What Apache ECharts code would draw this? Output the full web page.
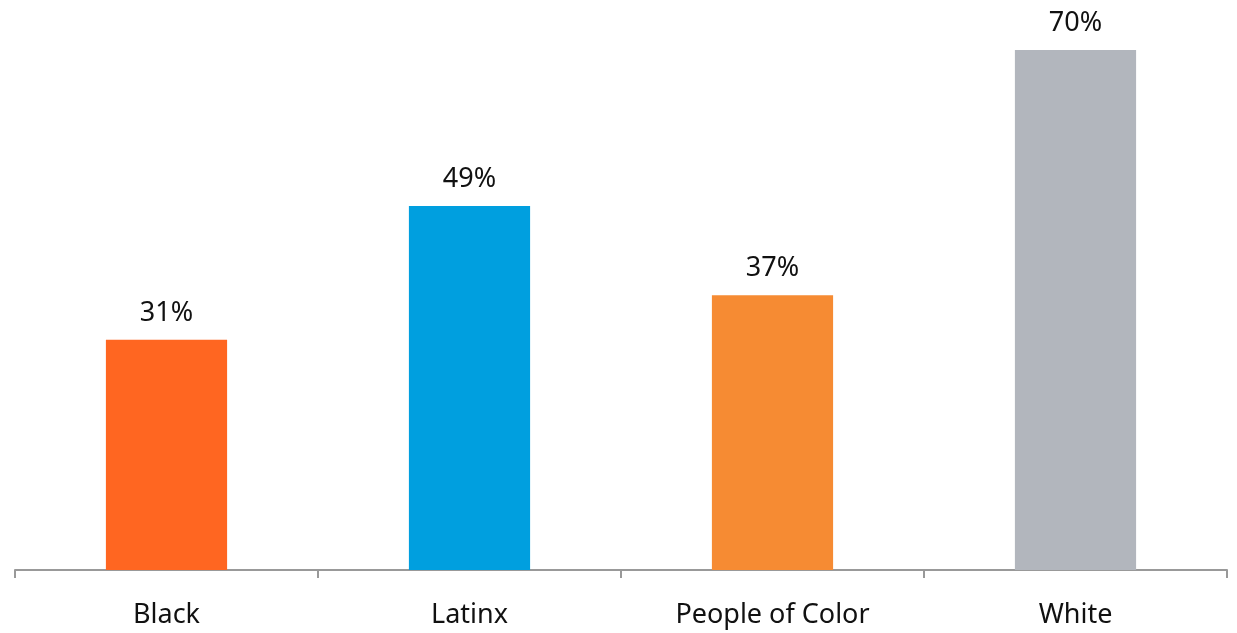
<!DOCTYPE html>
<html>
<head>
<meta charset="utf-8">
<script src="https://cdn.jsdelivr.net/npm/echarts@6/dist/echarts.min.js"></script>
<style>html,body{margin:0;padding:0;background:#fff;}#c{width:1237px;height:633px;}</style>
</head>
<body>
<div id="c"></div>
<script>
const categories = ['Black', 'Latinx', 'People of Color', 'White'];
const values = [31, 49, 37, 70];
const barColors = ['#FF6621', '#009FDF', '#F68B33', '#B2B6BD'];

const chart = echarts.init(document.getElementById('c'));
chart.setOption({
  animation: false,
  grid: { left: 15, right: 10, top: 50, bottom: 63, containLabel: false },
  xAxis: {
    type: 'category',
    data: categories,
    axisLine: { show: true, lineStyle: { color: '#999999', width: 2 } },
    axisTick: { show: true, length: 8, lineStyle: { color: '#999999', width: 2 } },
    axisLabel: { color: '#111', fontSize: 27, fontFamily: 'Noto Sans', margin: 32 }
  },
  yAxis: {
    type: 'value', min: 0, max: 70, show: false,
    splitLine: { show: false }
  },
  series: [{
    type: 'bar',
    barWidth: '40%',
    data: values.map((v, i) => ({ value: v, itemStyle: { color: barColors[i] } })),
    label: {
      show: true, position: 'top', distance: 13,
      formatter: p => p.value + '%',
      color: '#111', fontSize: 27, fontFamily: 'Noto Sans'
    }
  }]
});
</script>
</body>
</html>
